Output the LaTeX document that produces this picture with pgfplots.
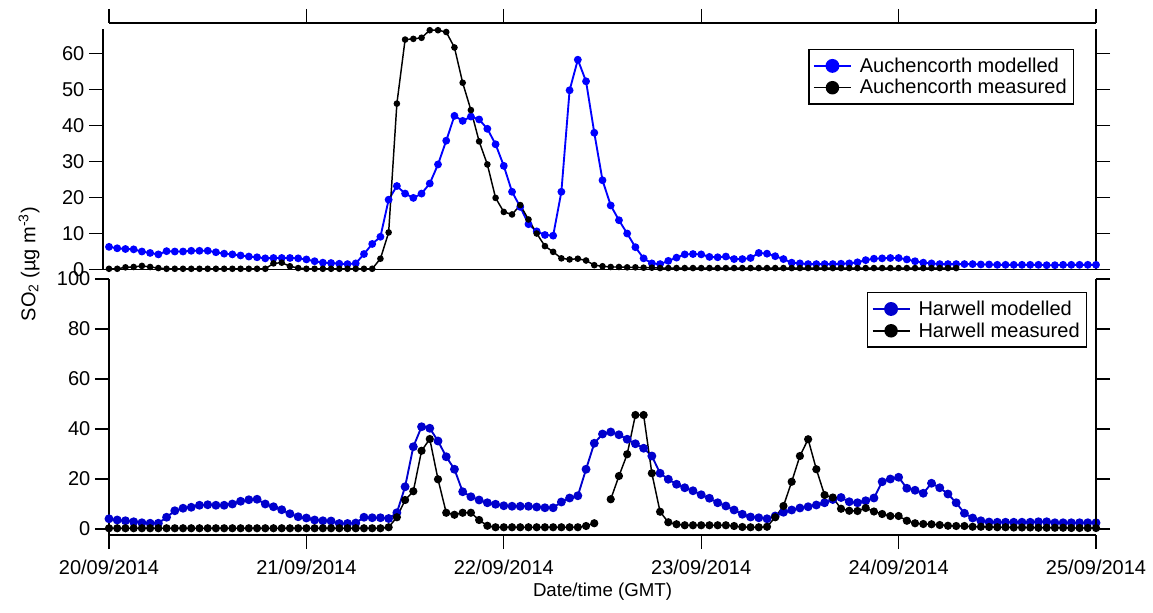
\documentclass[border=0pt]{standalone}
\usepackage{pgfplots}
\pgfplotsset{compat=1.18}
\usepackage{fontspec}
\setmainfont{Liberation Sans}
\definecolor{modA}{RGB}{0,0,255}
\definecolor{modH}{RGB}{0,0,205}

\pgfplotsset{
  igor/.style={
    scale only axis, width=740.25pt, xmin=0, xmax=120,
    tick align=outside, major tick length=10.5pt,
    every tick/.style={black, line width=1pt},
    axis line style={-, line width=1pt},
    tick label style={font=\fontsize{15}{18}\selectfont},
    /pgf/number format/assume math mode=true,
    label style={font=\fontsize{14}{17}\selectfont},
    clip=false,
  },
  leg/.style={
    legend style={draw=black, line width=1pt, font=\fontsize{15}{18}\selectfont,
      inner xsep=3pt, inner ysep=4pt, row sep=0pt, column sep=4pt},
    legend cell align=left,
    legend image code/.code={
      \draw[mark repeat=2, mark phase=2, ##1, mark size=4.5pt]
        plot coordinates {(0pt,0pt) (13.875pt,0pt) (27.75pt,0pt)};},
  },
}

\begin{document}
\begin{tikzpicture}
\path[use as bounding box] (-81.75pt,-62.25pt) rectangle (783pt,396.75pt);

% ---- top panel: Auchencorth ----
\begin{axis}[igor, leg, at={(0pt,194.625pt)}, anchor=south west,
  height=180pt, ymin=0, ymax=66.7,
  axis x line*=bottom, xtick=\empty,
  axis y line*=right, ytick={0,10,...,60}, yticklabels={},
  legend style={at={(0.9777,0.9188)}, anchor=north east}]
\addplot[color=modA, line width=1.4pt, mark=*, mark size=2.2pt] coordinates {
(0,6.3)(1,5.9)(2,5.7)(3,5.6)(4,5.0)(5,4.6)(6,4.2)(7,5.1)(8,5.0)(9,5.0)(10,5.2)(11,5.2)(12,5.2)(13,4.8)(14,4.4)(15,4.2)(16,3.9)(17,3.6)(18,3.4)(19,3.1)(20,3.2)(21,3.2)(22,3.2)(23,3.1)(24,2.8)(25,2.3)(26,1.9)(27,1.8)(28,1.6)(29,1.5)(30,1.7)(31,4.3)(32,7.1)(33,9.1)(34,19.4)(35,23.2)(36,21.1)(37,19.9)(38,21.1)(39,23.9)(40,29.2)(41,35.8)(42,42.7)(43,41.3)(44,42.5)(45,41.7)(46,39.1)(47,34.8)(48,28.8)(49,21.6)(50,17.4)(51,12.6)(52,10.6)(53,9.6)(54,9.4)(55,21.6)(56,49.8)(57,58.3)(58,52.3)(59,38.0)(60,24.8)(61,17.8)(62,13.7)(63,10.0)(64,6.2)(65,3.1)(66,1.7)(67,1.5)(68,2.4)(69,3.3)(70,4.2)(71,4.3)(72,4.2)(73,3.5)(74,3.4)(75,3.6)(76,2.9)(77,2.9)(78,3.2)(79,4.6)(80,4.4)(81,3.7)(82,2.9)(83,1.9)(84,1.7)(85,1.5)(86,1.5)(87,1.5)(88,1.5)(89,1.6)(90,1.7)(91,2.0)(92,2.6)(93,3.0)(94,3.1)(95,3.2)(96,3.2)(97,2.8)(98,2.3)(99,1.9)(100,1.7)(101,1.5)(102,1.5)(103,1.5)(104,1.5)(105,1.5)(106,1.4)(107,1.4)(108,1.3)(109,1.3)(110,1.3)(111,1.3)(112,1.3)(113,1.3)(114,1.2)(115,1.2)(116,1.3)(117,1.3)(118,1.3)(119,1.3)(120,1.3)
};
\addlegendentry{Auchencorth modelled}
\addplot[color=black, line width=1.1pt, mark=*, mark size=1.9pt] coordinates {
(0,0.2)(1,0.2)(2,0.6)(3,0.7)(4,1.0)(5,0.7)(6,0.4)(7,0.2)(8,0.2)(9,0.2)(10,0.2)(11,0.2)(12,0.2)(13,0.2)(14,0.2)(15,0.2)(16,0.2)(17,0.2)(18,0.2)(19,0.2)(20,1.7)(21,1.9)(22,0.9)(23,0.4)(24,0.2)(25,0.2)(26,0.2)(27,0.2)(28,0.2)(29,0.2)(30,0.2)(31,0.2)(32,0.2)(33,3.0)(34,10.3)(35,46.1)(36,63.9)(37,64.1)(38,64.4)(39,66.5)(40,66.5)(41,66.0)(42,61.7)(43,51.9)(44,44.3)(45,35.6)(46,29.2)(47,19.9)(48,16.0)(49,15.3)(50,17.9)(51,13.9)(52,10.0)(53,6.5)(54,4.9)(55,3.1)(56,2.8)(57,3.0)(58,2.5)(59,1.2)(60,0.9)(61,0.7)(62,0.7)(63,0.6)(64,0.6)(65,0.5)(66,0.5)(67,0.4)(68,0.4)(69,0.4)(70,0.4)(71,0.4)(72,0.4)(73,0.4)(74,0.4)(75,0.4)(76,0.4)(77,0.4)(78,0.4)(79,0.4)(80,0.4)(81,0.4)(82,0.4)(83,0.4)(84,0.4)(85,0.4)(86,0.4)(87,0.4)(88,0.4)(89,0.4)(90,0.4)(91,0.4)(92,0.4)(93,0.4)(94,0.4)(95,0.4)(96,0.4)(97,0.4)(98,0.4)(99,0.4)(100,0.4)(101,0.4)(102,0.4)(103,0.4)
};
\addlegendentry{Auchencorth measured}
\end{axis}

% left axis of top panel, set a little apart
\begin{axis}[igor, at={(-4.5pt,194.625pt)}, anchor=south west,
  width=10pt, xmin=0, xmax=1, height=180pt, ymin=0, ymax=66.7,
  axis x line*=bottom, xtick=\empty, axis y line*=left, ytick={0,10,...,60}]
\end{axis}

% top date axis
\begin{axis}[igor, at={(0pt,379.5pt)}, anchor=north west,
  height=5pt, ymin=0, ymax=1,
  axis y line=none, axis x line*=top,
  xtick={0,24,...,120}, xticklabels={}]
\end{axis}

% ---- bottom panel: Harwell ----
\begin{axis}[igor, leg, at={(0pt,-4.5pt)}, anchor=south west,
  height=192pt, ymin=-2.4, ymax=100,
  axis x line*=bottom, axis y line*=left,
  ytick={0,20,...,100},
  xtick={0,24,...,120},
  xticklabels={20/09/2014,21/09/2014,22/09/2014,23/09/2014,24/09/2014,25/09/2014},
  xticklabel style={yshift=-5pt},
  xlabel={Date/time (GMT)},
  xlabel style={yshift=1pt},
  unbounded coords=jump,
  legend style={at={(0.9909,0.949)}, anchor=north east}]
\addplot[color=modH, line width=1.4pt, mark=*, mark size=2.6pt] coordinates {
(0,4.1)(1,3.6)(2,3.3)(3,2.9)(4,2.5)(5,2.3)(6,2.3)(7,4.7)(8,7.3)(9,8.3)(10,8.7)(11,9.5)(12,9.7)(13,9.5)(14,9.5)(15,10.0)(16,11.1)(17,11.7)(18,11.9)(19,10.0)(20,8.9)(21,7.7)(22,6.1)(23,4.9)(24,4.4)(25,3.6)(26,3.3)(27,3.2)(28,2.2)(29,2.2)(30,2.4)(31,4.7)(32,4.5)(33,4.5)(34,4.2)(35,6.5)(36,16.9)(37,32.9)(38,40.9)(39,40.3)(40,35.2)(41,28.9)(42,23.9)(43,14.9)(44,12.9)(45,11.6)(46,10.5)(47,9.9)(48,9.3)(49,9.1)(50,9.1)(51,9.1)(52,8.8)(53,8.5)(54,8.5)(55,10.8)(56,12.4)(57,13.3)(58,23.9)(59,34.3)(60,38.0)(61,38.8)(62,37.7)(63,35.9)(64,34.1)(65,32.3)(66,29.2)(67,22.3)(68,19.9)(69,17.9)(70,16.5)(71,15.3)(72,13.7)(73,12.3)(74,10.5)(75,9.2)(76,7.6)(77,5.9)(78,4.8)(79,4.5)(80,4.1)(81,5.2)(82,6.7)(83,7.6)(84,8.4)(85,8.9)(86,9.6)(87,10.5)(88,11.8)(89,12.6)(90,10.9)(91,10.5)(92,11.3)(93,12.4)(94,18.9)(95,20.0)(96,20.7)(97,16.3)(98,15.5)(99,14.3)(100,18.3)(101,16.5)(102,14.0)(103,10.5)(104,6.3)(105,4.4)(106,3.3)(107,2.8)(108,2.7)(109,2.7)(110,2.7)(111,2.7)(112,2.7)(113,2.9)(114,2.9)(115,2.5)(116,2.5)(117,2.5)(118,2.5)(119,2.5)(120,2.5)
};
\addlegendentry{Harwell modelled}
\addplot[color=black, line width=1.1pt, mark=*, mark size=2.5pt] coordinates {
(0,0.3)(1,0.3)(2,0.3)(3,0.3)(4,0.3)(5,0.3)(6,0.3)(7,0.3)(8,0.3)(9,0.3)(10,0.3)(11,0.3)(12,0.3)(13,0.3)(14,0.3)(15,0.3)(16,0.3)(17,0.3)(18,0.3)(19,0.3)(20,0.3)(21,0.3)(22,0.3)(23,0.3)(24,0.3)(25,0.3)(26,0.3)(27,0.3)(28,0.3)(29,0.3)(30,0.3)(31,0.3)(32,0.3)(33,0.3)(34,0.7)(35,4.7)(36,11.6)(37,15.1)(38,31.3)(39,36.0)(40,19.9)(41,6.5)(42,5.7)(43,6.5)(44,6.5)(45,3.6)(46,1.3)(47,0.7)(48,0.7)(49,0.7)(50,0.7)(51,0.7)(52,0.7)(53,0.7)(54,0.7)(55,0.7)(56,0.7)(57,0.7)(58,1.2)(59,2.3)(60,nan)(61,11.9)(62,21.2)(63,29.9)(64,45.6)(65,45.6)(66,22.3)(67,6.9)(68,2.7)(69,1.9)(70,1.5)(71,1.5)(72,1.5)(73,1.5)(74,1.5)(75,1.5)(76,1.2)(77,0.8)(78,0.7)(79,0.7)(80,0.9)(81,4.7)(82,9.2)(83,18.9)(84,29.2)(85,35.9)(86,23.9)(87,13.6)(88,12.6)(89,8.1)(90,7.3)(91,7.2)(92,8.4)(93,7.0)(94,6.0)(95,5.2)(96,5.2)(97,3.3)(98,2.3)(99,2.0)(100,1.9)(101,1.6)(102,1.3)(103,1.2)(104,1.2)(105,0.9)(106,0.9)(107,0.8)(108,0.7)(109,0.7)(110,0.6)(111,0.6)(112,0.6)(113,0.5)(114,0.5)(115,0.5)(116,0.5)(117,0.4)(118,0.4)(119,0.4)(120,0.4)
};
\addlegendentry{Harwell measured}
\end{axis}

% right axis of bottom panel
\begin{axis}[igor, at={(0pt,0pt)}, anchor=south west,
  height=187.5pt, ymin=0, ymax=100,
  axis x line=none, axis y line*=right, ytick={0,20,...,100}, yticklabels={}]
\end{axis}

\node[rotate=90, font=\fontsize{15}{18}\selectfont] at (-60pt,198.75pt)
  {SO\textsubscript{2} (µg m\textsuperscript{-3})};
\end{tikzpicture}
\end{document}
